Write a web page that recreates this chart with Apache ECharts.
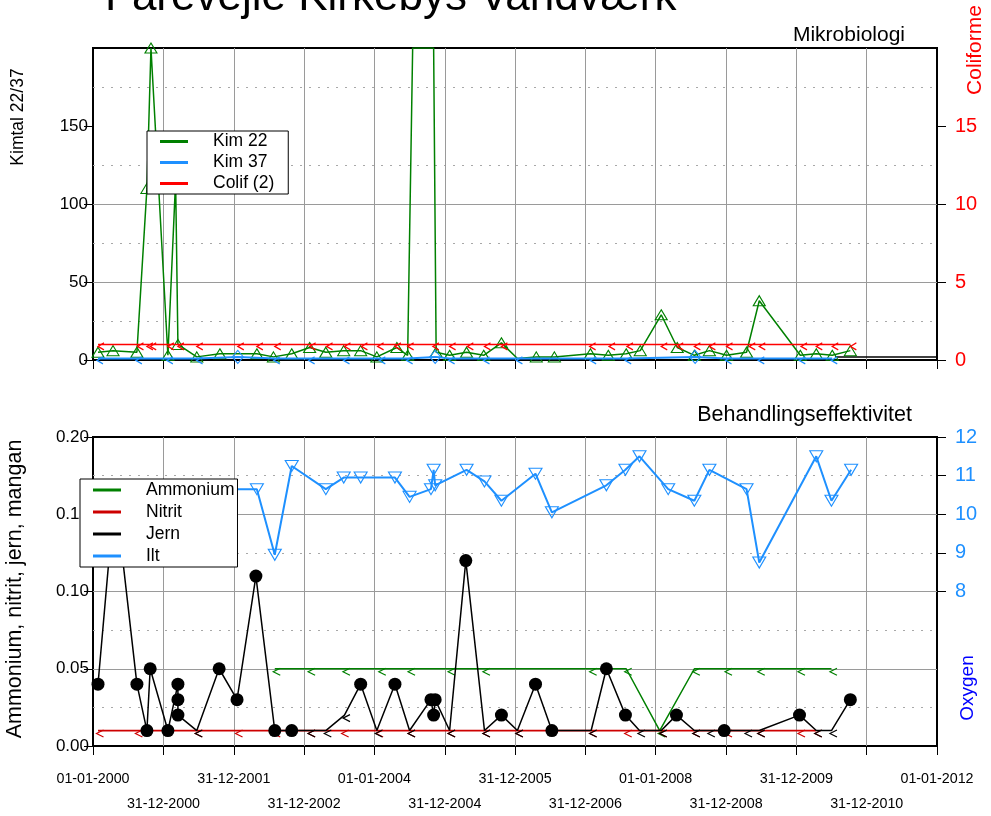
<!DOCTYPE html>
<html>
<head>
<meta charset="utf-8">
<script src="https://cdn.jsdelivr.net/npm/echarts@6/dist/echarts.min.js"></script>
<style>
  html, body { margin: 0; padding: 0; background: #fff; }
  #chart { width: 991px; height: 816px; }
</style>
</head>
<body>
<div id="chart"></div>
<script>
// ---------- data ----------
// year boundaries on the date axis and the labels printed under them
const yearTicks = ['2000-01-01','2001-01-01','2002-01-01','2003-01-01','2004-01-01','2005-01-01','2006-01-01',
                   '2007-01-01','2008-01-01','2009-01-01','2010-01-01','2011-01-01','2012-01-01'];
const tickLabels = ['01-01-2000','31-12-2000','31-12-2001','31-12-2002','01-01-2004','31-12-2004','31-12-2005',
                    '31-12-2006','01-01-2008','31-12-2008','31-12-2009','31-12-2010','01-01-2012'];

// Mikrobiologi: Kim 22 (kimtal), 1 = drawn with marker
const kim22Dates = ['2000-01-27','2000-04-14','2000-08-16','2000-10-07','2000-10-28','2001-01-24','2001-03-05','2001-03-17',
  '2001-06-23','2001-10-21','2002-05-01','2002-07-26','2002-10-29','2003-01-30','2003-04-24','2003-07-26','2003-10-22',
  '2004-01-14','2004-04-27','2004-06-22','2004-07-18','2004-11-04','2004-11-17','2005-01-26','2005-04-24','2005-07-22',
  '2005-10-22','2006-01-13','2006-04-21','2006-07-24','2007-01-27','2007-04-30','2007-08-01','2007-10-13','2008-01-30',
  '2008-04-22','2008-07-20','2008-10-06','2009-01-03','2009-04-17','2009-06-22','2010-01-21','2010-04-14','2010-07-06',
  '2010-10-08'];
const kim22Values = [5,6,5,110,200,3,115,10,2,4,4,2,4,8,5,6,6,2,8,3,200,200,5,3,5,3,11,1,2,2,4,3,4,6,29,8,3,6,3,5,38,3,4,3,6];
const kim22Marker = [1,1,1,1,1,1,1,1,1,1,1,1,1,1,1,1,1,1,1,1,0,0,1,1,1,1,1,0,1,1,1,1,1,1,1,1,1,1,1,1,1,1,1,1,1];

// Kim 37, 1 = below detection limit ("<")
const kim37Dates = ['2000-01-27','2000-08-16','2001-01-24','2001-06-27','2002-01-22','2002-08-02','2003-01-30','2003-07-30',
  '2004-02-01','2004-06-22','2004-11-12','2005-01-26','2005-07-26','2006-01-13','2007-01-31','2007-08-01','2008-07-24',
  '2009-01-03','2009-06-22','2010-01-21','2010-07-06'];
const kim37Values = [1,1,1,1,2,1,1,1,1,1,2,1,1,1,1,1,2,1,1,1,1];
const kim37Below  = [1,1,1,1,0,1,1,1,1,1,0,1,1,1,1,1,0,1,1,1,1];

// Coliforme (2), all below detection limit
const colifDates = ['2000-01-27','2000-08-19','2000-10-07','2000-10-24','2001-01-24','2001-03-17','2001-06-23','2002-01-22',
  '2002-05-01','2002-08-02','2003-01-30','2003-04-28','2003-07-30','2003-10-26','2004-01-18','2004-04-17','2004-06-22',
  '2004-10-31','2005-01-26','2005-04-28','2005-07-26','2005-10-22','2007-01-23','2007-05-04','2007-08-05','2008-01-30',
  '2008-04-22','2008-07-20','2008-10-06','2009-01-03','2009-05-01','2009-06-22','2010-01-25','2010-04-14','2010-07-06',
  '2010-10-08'];
const colifValues = [1,1,1,1,1,1,1,1,1,1,1,1,1,1,1,1,1,1,1,1,1,1,1,1,1,1,1,1,1,1,1,1,1,1,1,1];

// short reference run at the end of the microbiology panel
const baseDates = ['2010-07-20','2012-01-01'];
const baseValues = [2,2];

// Behandlingseffektivitet: Ammonium (all "<")
const ammDates = ['2002-08-02','2003-01-30','2003-07-30','2004-02-01','2004-07-02','2005-01-26','2005-07-26','2007-01-31',
  '2007-08-01','2008-01-22','2008-07-20','2009-01-03','2009-06-22','2010-01-17','2010-07-02'];
const ammValues = [0.05,0.05,0.05,0.05,0.05,0.05,0.05,0.05,0.05,0.01,0.05,0.05,0.05,0.05,0.05];

// Nitrit (all "<")
const nitDates = ['2000-01-27','2000-08-16','2001-06-23','2002-01-18','2002-08-02','2003-01-30','2003-07-23','2004-01-18',
  '2004-07-02','2005-01-26','2005-07-26','2006-01-13','2007-01-31','2007-08-01','2008-01-30','2008-07-20','2009-01-03',
  '2009-06-22','2010-01-17','2010-04-14'];
const nitValues = [0.01,0.01,0.01,0.01,0.01,0.01,0.01,0.01,0.01,0.01,0.01,0.01,0.01,0.01,0.01,0.01,0.01,0.01,0.01,0.01];

// Jern, 1 = below detection limit ("<")
const jernDates = ['2000-01-27','2000-04-24','2000-08-16','2000-10-07','2000-10-24','2001-01-24','2001-03-17','2001-03-17',
  '2001-03-17','2001-06-23','2001-10-17','2002-01-18','2002-04-26','2002-08-02','2002-10-29','2003-01-30','2003-04-24',
  '2003-07-30','2003-10-22','2004-01-14','2004-04-17','2004-07-02','2004-10-21','2004-11-04','2004-11-12','2005-01-26',
  '2005-04-20','2005-07-26','2005-10-22','2006-01-13','2006-04-17','2006-07-11','2007-01-31','2007-04-20','2007-07-28',
  '2007-10-09','2008-01-30','2008-04-18','2008-07-20','2008-10-06','2008-12-22','2009-04-17','2009-06-22','2010-01-17',
  '2010-04-14','2010-07-02','2010-10-08'];
const jernValues = [0.04,0.165,0.04,0.01,0.05,0.01,0.04,0.03,0.02,0.01,0.05,0.03,0.11,0.01,0.01,0.01,0.01,0.02,0.04,0.01,
  0.04,0.01,0.03,0.02,0.03,0.01,0.12,0.01,0.02,0.01,0.04,0.01,0.01,0.05,0.02,0.01,0.01,0.02,0.01,0.01,0.01,0.01,0.01,
  0.02,0.01,0.01,0.03];
const jernBelow = [0,0,0,0,0,0,0,0,0,1,0,0,0,0,0,1,1,1,0,1,0,1,0,0,0,1,0,1,0,1,0,0,1,0,0,1,1,0,1,1,0,1,1,0,1,1,0];

// Ilt (oxygen, mg/l)
const iltDates = ['2001-10-17','2002-05-01','2002-08-02','2002-10-29','2003-04-24','2003-07-26','2003-10-22','2004-04-17',
  '2004-07-02','2004-10-21','2004-11-04','2004-11-12','2005-04-24','2005-07-26','2005-10-22','2006-04-17','2006-07-11',
  '2007-04-20','2007-07-28','2007-10-09','2008-03-06','2008-07-20','2008-10-06','2009-04-17','2009-06-22','2010-04-14',
  '2010-07-02','2010-10-12'];
const iltValues = [10.65,10.65,8.95,11.25,10.65,10.95,10.95,10.95,10.45,10.65,11.15,10.75,11.15,10.85,10.35,11.05,10.05,
  10.75,11.15,11.5,10.65,10.35,11.15,10.65,8.75,11.5,10.35,11.15];

// ---------- styling ----------
const FONT = 'Liberation Sans, Arial, Helvetica, sans-serif';
const GREEN = '#008000', BLUE = '#1E90FF', RED = '#FF0000', DARKRED = '#CD0000', BLACK = '#000000';
const LT_PATH = 'path://M10,0 L0,5 L10,10';   // "<" glyph used for values below detection limit

const ms = s => { const p = s.split('-').map(Number); return Date.UTC(p[0], p[1] - 1, p[2]); };
const tickStamps = yearTicks.map(ms);
const X_MIN = tickStamps[0], X_MAX = tickStamps[tickStamps.length - 1];

function lessThan(color, size, offset) {
  return { symbol: LT_PATH, symbolSize: size, symbolOffset: offset,
           itemStyle: { color: 'none', borderColor: color, borderWidth: 1.2 } };
}
function openSymbol(type, size, color, rotate) {
  return { symbol: type, symbolSize: size, symbolRotate: rotate || 0,
           itemStyle: { color: 'rgba(255,255,255,0)', borderColor: color, borderWidth: 1.1 } };
}
function build(dates, values, styleOf) {
  return dates.map((d, i) => Object.assign({ value: [ms(d), values[i]] }, styleOf(i)));
}
function labelFor(v) {
  let best = 0;
  tickStamps.forEach((t, i) => { if (Math.abs(t - v) < Math.abs(tickStamps[best] - v)) best = i; });
  return tickLabels[best];
}

const gridLine = { color: '#9a9a9a', width: 1 };
const dotLine = { color: '#a8a8a8', width: 1, type: [2, 7] };

function xAxis(gridIndex, opts) {
  return Object.assign({
    type: 'value', gridIndex, min: X_MIN, max: X_MAX, position: 'bottom', scale: true,
    axisLine: { show: false },
    axisTick: { show: true, length: 9, customValues: tickStamps, lineStyle: { color: BLACK, width: 1 } },
    axisLabel: { show: false },
    splitLine: { show: true, showMinLine: false, showMaxLine: false, lineStyle: gridLine },
    minorSplitLine: { show: false }
  }, opts);
}
const evenTicks = tickStamps.filter((t, i) => i % 2 === 0);
const oddTicks = tickStamps.filter((t, i) => i % 2 === 1);

const option = {
  animation: false,
  backgroundColor: '#fff',
  textStyle: { fontFamily: FONT },
  grid: [
    { left: 93, top: 48, width: 844, height: 312, show: true, borderColor: BLACK, borderWidth: 2, backgroundColor: 'transparent' },
    { left: 93, top: 437, width: 844, height: 309, show: true, borderColor: BLACK, borderWidth: 2, backgroundColor: 'transparent' }
  ],
  xAxis: [
    xAxis(0),
    xAxis(1, {
      axisLabel: { show: true, customValues: evenTicks, margin: 26, fontSize: 14.3, color: BLACK, fontFamily: FONT,
                   formatter: v => labelFor(v) }
    }),
    xAxis(1, {
      axisTick: { show: false }, splitLine: { show: false },
      axisLabel: { show: true, customValues: oddTicks, margin: 51, fontSize: 14.3, color: BLACK, fontFamily: FONT,
                   formatter: v => labelFor(v) }
    })
  ],
  yAxis: [
    { type: 'value', gridIndex: 0, position: 'left', min: 0, max: 200, interval: 50,
      axisLine: { show: false },
      axisTick: { show: true, length: 9, customValues: [0, 50, 100, 150], lineStyle: { color: BLACK } },
      axisLabel: { customValues: [0, 50, 100, 150], margin: 5, fontSize: 17, color: BLACK, fontFamily: FONT },
      splitLine: { show: true, showMinLine: false, showMaxLine: false, lineStyle: gridLine },
      minorTick: { show: false, splitNumber: 2 },
      minorSplitLine: { show: true, lineStyle: dotLine } },
    { type: 'value', gridIndex: 0, position: 'right', min: 0, max: 20, interval: 5,
      axisLine: { show: false },
      axisTick: { show: true, length: 9, customValues: [0, 5, 10, 15], lineStyle: { color: BLACK } },
      axisLabel: { customValues: [0, 5, 10, 15], margin: 18, fontSize: 20, color: RED, fontFamily: FONT },
      splitLine: { show: false } },
    { type: 'value', gridIndex: 1, position: 'left', min: 0, max: 0.2, interval: 0.05,
      axisLine: { show: false },
      axisTick: { show: true, length: 9, customValues: [0, 0.05, 0.1, 0.15, 0.2], lineStyle: { color: BLACK } },
      axisLabel: { customValues: [0, 0.05, 0.1, 0.15, 0.2], margin: 4, fontSize: 17, color: BLACK, fontFamily: FONT,
                   formatter: v => v.toFixed(2) },
      splitLine: { show: true, showMinLine: false, showMaxLine: false, lineStyle: gridLine },
      minorTick: { show: false, splitNumber: 2 },
      minorSplitLine: { show: true, lineStyle: dotLine } },
    { type: 'value', gridIndex: 1, position: 'right', min: 4, max: 12, interval: 1,
      axisLine: { show: false },
      axisTick: { show: true, length: 9, customValues: [8, 9, 10, 11, 12], lineStyle: { color: BLACK } },
      axisLabel: { customValues: [8, 9, 10, 11, 12], margin: 18, fontSize: 20, color: BLUE, fontFamily: FONT },
      splitLine: { show: false } }
  ],
  legend: [
    { orient: 'vertical', left: 147, top: 131, z: 20, selectedMode: false,
      padding: [0, 14, 0, 13], itemWidth: 28, itemHeight: 3, itemGap: 0, icon: 'rect',
      backgroundColor: '#fff', borderColor: BLACK, borderWidth: 1, borderRadius: 0,
      textStyle: { fontSize: 17.5, color: BLACK, lineHeight: 21, padding: [0, 0, 0, 20], fontFamily: FONT },
      data: [
        { name: 'Kim 22', itemStyle: { color: GREEN, borderWidth: 0 } },
        { name: 'Kim 37', itemStyle: { color: BLUE, borderWidth: 0 } },
        { name: 'Colif (2)', itemStyle: { color: RED, borderWidth: 0 } }
      ] },
    { orient: 'vertical', left: 80, top: 479, z: 20, selectedMode: false,
      padding: [0, 3, 0, 13], itemWidth: 28, itemHeight: 3, itemGap: 0, icon: 'rect',
      backgroundColor: '#fff', borderColor: BLACK, borderWidth: 1, borderRadius: 0,
      textStyle: { fontSize: 17.5, color: BLACK, lineHeight: 22, padding: [0, 0, 0, 20], fontFamily: FONT },
      data: [
        { name: 'Ammonium', itemStyle: { color: GREEN, borderWidth: 0 } },
        { name: 'Nitrit', itemStyle: { color: DARKRED, borderWidth: 0 } },
        { name: 'Jern', itemStyle: { color: BLACK, borderWidth: 0 } },
        { name: 'Ilt', itemStyle: { color: BLUE, borderWidth: 0 } }
      ] }
  ],
  graphic: [
    { type: 'text', x: 105, y: -2, silent: true,
      style: { text: 'Farevejle Kirkebys Vandværk', fontSize: 44, fontFamily: FONT, fill: BLACK,
               align: 'left', verticalAlign: 'middle' } },
    { type: 'text', x: 905, y: 35, silent: true,
      style: { text: 'Mikrobiologi', fontSize: 21, fontFamily: FONT, fill: BLACK, align: 'right', verticalAlign: 'middle' } },
    { type: 'text', x: 912, y: 415, silent: true,
      style: { text: 'Behandlingseffektivitet', fontSize: 21.5, fontFamily: FONT, fill: BLACK, align: 'right', verticalAlign: 'middle' } },
    { type: 'text', x: 18, y: 117, rotation: Math.PI / 2, silent: true,
      style: { text: 'Kimtal 22/37', fontSize: 17.5, fontFamily: FONT, fill: BLACK, align: 'center', verticalAlign: 'middle' } },
    { type: 'text', x: 975, y: 50, rotation: Math.PI / 2, silent: true,
      style: { text: 'Coliforme', fontSize: 21, fontFamily: FONT, fill: RED, align: 'center', verticalAlign: 'middle' } },
    { type: 'text', x: 15, y: 589, rotation: Math.PI / 2, silent: true,
      style: { text: 'Ammonium, nitrit, jern, mangan', fontSize: 21.5, fontFamily: FONT, fill: BLACK, align: 'center', verticalAlign: 'middle' } },
    { type: 'text', x: 968, y: 688, rotation: Math.PI / 2, silent: true,
      style: { text: 'Oxygen', fontSize: 19, fontFamily: FONT, fill: '#0000FF', align: 'center', verticalAlign: 'middle' } }
  ],
  series: [
    { name: 'Kim 22', type: 'line', xAxisIndex: 0, yAxisIndex: 0, z: 3, silent: true,
      lineStyle: { color: GREEN, width: 1.5 }, itemStyle: { color: GREEN },
      data: build(kim22Dates, kim22Values, i => kim22Marker[i] ? openSymbol('triangle', [12, 10], GREEN) : { symbol: 'none' }) },
    { name: 'Kim 37', type: 'line', xAxisIndex: 0, yAxisIndex: 0, z: 4, silent: true,
      lineStyle: { color: BLUE, width: 2 }, itemStyle: { color: BLUE },
      data: build(kim37Dates, kim37Values, i => kim37Below[i] ? lessThan(BLUE, [6, 7], [2, 2]) : openSymbol('diamond', [11, 13], BLUE)) },
    { name: 'Colif (2)', type: 'line', xAxisIndex: 0, yAxisIndex: 1, z: 5, silent: true,
      lineStyle: { color: RED, width: 1.5 }, itemStyle: { color: RED },
      data: build(colifDates, colifValues, () => lessThan(RED, [6, 7], [3, 2])) },
    { name: 'base', type: 'line', xAxisIndex: 0, yAxisIndex: 0, z: 3, silent: true, symbol: 'none',
      lineStyle: { color: BLACK, width: 1.5 }, itemStyle: { color: BLACK },
      data: build(baseDates, baseValues, () => ({})) },

    { name: 'Ammonium', type: 'line', xAxisIndex: 1, yAxisIndex: 2, z: 3, silent: true,
      lineStyle: { color: GREEN, width: 1.5 }, itemStyle: { color: GREEN },
      data: build(ammDates, ammValues, () => lessThan(GREEN, [7, 7], [2, 3])) },
    { name: 'Nitrit', type: 'line', xAxisIndex: 1, yAxisIndex: 2, z: 4, silent: true,
      lineStyle: { color: DARKRED, width: 1.8 }, itemStyle: { color: DARKRED },
      data: build(nitDates, nitValues, () => lessThan(DARKRED, [7, 7], [2, 3])) },
    { name: 'Jern', type: 'line', xAxisIndex: 1, yAxisIndex: 2, z: 5, silent: true,
      lineStyle: { color: BLACK, width: 1.5 }, itemStyle: { color: BLACK },
      data: build(jernDates, jernValues, i => jernBelow[i] ? lessThan(BLACK, [7, 7], [2, 3])
        : { symbol: 'circle', symbolSize: 13, itemStyle: { color: BLACK, borderWidth: 0 } }) },
    { name: 'Ilt', type: 'line', xAxisIndex: 1, yAxisIndex: 3, z: 6, silent: true,
      lineStyle: { color: BLUE, width: 2 }, itemStyle: { color: BLUE },
      data: build(iltDates, iltValues, () => openSymbol('triangle', [13, 11], BLUE, 180)) }
  ]
};

const chart = echarts.init(document.getElementById('chart'), null, { renderer: 'canvas' });
chart.setOption(option);
</script>
</body>
</html>
